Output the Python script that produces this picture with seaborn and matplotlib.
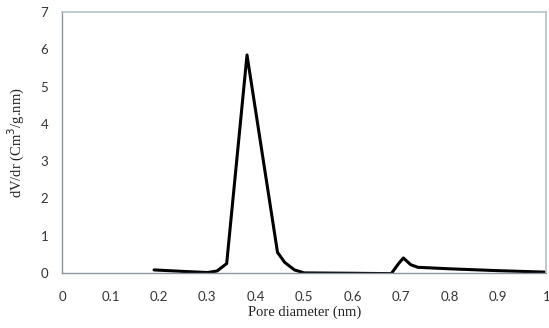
import matplotlib
matplotlib.use("Agg")
import matplotlib.pyplot as plt
import seaborn as sns
import pandas as pd

pore_diameter = [0.19, 0.25, 0.30, 0.32, 0.34, 0.382, 0.445, 0.46, 0.48, 0.50, 0.60, 0.68, 0.695, 0.705, 0.72, 0.735, 0.80, 0.90, 1.00]
dv_dr = [0.08, 0.04, 0.01, 0.05, 0.25, 5.85, 0.55, 0.28, 0.08, 0.0, -0.01, -0.02, 0.25, 0.40, 0.22, 0.15, 0.11, 0.06, 0.02]
x_ticks = [0, 0.1, 0.2, 0.3, 0.4, 0.5, 0.6, 0.7, 0.8, 0.9, 1.0]
x_tick_labels = ["0", "0.1", "0.2", "0.3", "0.4", "0.5", "0.6", "0.7", "0.8", "0.9", "1"]
y_ticks = [0, 1, 2, 3, 4, 5, 6, 7]

sns.set_style("white")
plt.rcParams['font.family'] = ['Liberation Serif', 'DejaVu Serif']

df = pd.DataFrame({"x": pore_diameter, "y": dv_dr})

fig = plt.figure(figsize=(5.49, 3.28), dpi=100)
ax = fig.add_axes([0.113, 0.168, 0.882, 0.795])
sns.lineplot(data=df, x="x", y="y", ax=ax, color="black", linewidth=2.2, sort=False)

ax.set_xlim(0, 1)
ax.set_ylim(0, 7)
ax.set_xticks(x_ticks)
ax.set_xticklabels(x_tick_labels)
ax.set_yticks(y_ticks)
ax.tick_params(axis="both", which="major", direction="out", length=4, width=0.8,
               colors="#8a96a0", labelcolor="#333333", labelsize=9.5)
ax.tick_params(axis="x", pad=9)
ax.tick_params(axis="y", pad=6)
for lbl in ax.get_xticklabels() + ax.get_yticklabels():
    lbl.set_family(['Lato', 'DejaVu Sans'])
for side in ["left", "bottom"]:
    ax.spines[side].set_color("#8a96a0")
    ax.spines[side].set_linewidth(1.0)
for side in ["top", "right"]:
    ax.spines[side].set_color("#b4c2cc")
    ax.spines[side].set_linewidth(1.2)
ax.set_xlabel("Pore diameter (nm)", fontsize=10.5, color="#222222", labelpad=2)
ax.set_ylabel("dV/dr (Cm$^3$/g.nm)", fontsize=10.5, color="#222222", labelpad=10)

fig.savefig("out.png", dpi=100)
